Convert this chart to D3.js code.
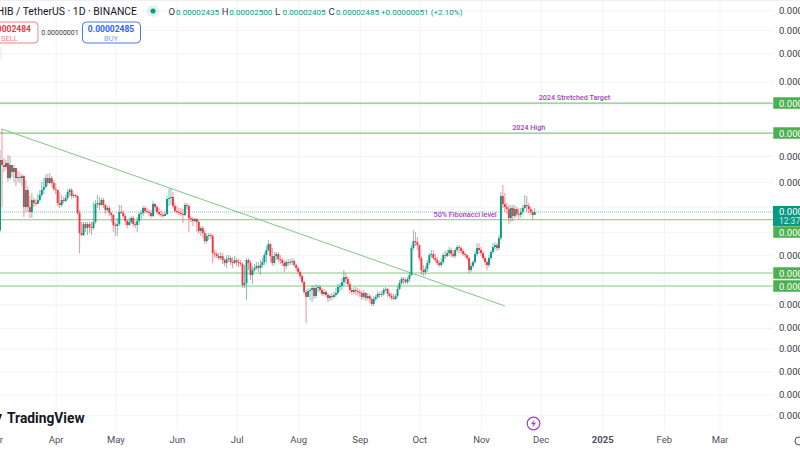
<!DOCTYPE html>
<html>
<head>
<meta charset="utf-8">
<script src="https://cdnjs.cloudflare.com/ajax/libs/d3/7.8.5/d3.min.js"></script>
<style>
html, body { margin: 0; padding: 0; background: #fff; overflow: hidden; }
svg { display: block; }
text { font-family: Roboto, "Liberation Sans", sans-serif; }
</style>
</head>
<body>
<svg id="chart" width="800" height="450"></svg>
<script>
// prices are in units of 0.00000001 USDT
const firstDay = "2024-03-04";
const firstOpen = 2166;

const closes = [
  3690,3552,3499,3607,3218,3552,3368,3472,3218,3243,
  3218,3267,2581,2938,2581,2485,2722,2661,2641,2722,
  2828,2938,3005,3218,3098,3218,3098,2960,2938,2661,
  2621,2722,2702,2764,2893,2938,2806,2828,2806,2466,
  2117,2085,2268,2200,2268,2217,2200,2303,2641,2661,
  2621,2722,2621,2523,2562,2466,2429,2251,2234,2268,
  2485,2466,2410,2320,2251,2303,2374,2268,2251,2320,
  2447,2466,2562,2504,2485,2466,2410,2641,2581,2485,
  2447,2429,2410,2447,2743,2764,2785,2601,2504,2485,2466,
  2447,2429,2621,2601,2374,2356,2320,2356,2303,2150,
  2200,2117,1992,2070,2085,2070,1819,1805,1778,1751,
  1778,1725,1686,1738,1751,1699,1686,1725,1699,1686,
  1673,1427,1448,1725,1686,1539,1599,1623,1648,1623,
  1660,1699,1791,1861,1947,1778,1686,1778,1805,1738,
  1725,1686,1648,1699,1686,1699,1712,1660,1623,1575,
  1527,1459,1353,1303,1363,1374,1395,1313,1395,1405,
  1374,1333,1353,1323,1293,1313,1303,1323,1343,1405,
  1416,1459,1516,1493,1437,1374,1353,1374,1363,1353,
  1343,1303,1343,1293,1313,1283,1235,1283,1303,1333,
  1323,1333,1374,1384,1333,1313,1293,1283,1313,1384,
  1448,1493,1482,1459,1493,1539,1889,1992,1977,1933,
  1751,1599,1575,1611,1686,1791,1805,1751,1725,1686,
  1660,1699,1791,1778,1819,1861,1805,1778,1861,1904,
  1889,1847,1805,1791,1751,1599,1648,1699,1805,1889,
  1861,1819,1751,1699,1660,1751,1833,1904,1933,1889,
  2038,2806,2641,2581,2542,2374,2562,2410,2542,2447,
  2429,2485,2562,2621,2601,2542,2485,2429,2485
];
const highs = [
  3980,4669,3746,3690,3833,3804,3552,3552,3472,3394,
  3368,3317,3292,3169,3028,2806,2871,2764,2743,2850,
  2938,3122,3218,3317,3317,3343,3267,3169,3098,2938,
  2893,2828,2785,2828,2960,2983,2983,2871,2850,2828,
  2523,2303,2303,2303,2303,2303,2303,2681,2722,2828,
  2785,2764,2764,2641,2601,2601,2485,2447,2303,2374,
  2621,2621,2523,2447,2356,2374,2410,2410,2303,2392,
  2485,2523,2601,2601,2562,2542,2523,2702,2661,2621,
  2562,2523,2485,2485,2806,2960,2983,2893,2661,2601,2562,
  2562,2542,2661,2661,2641,2410,2392,2374,2374,2338,
  2234,2234,2166,2117,2117,2117,2101,1861,1833,1819,
  1833,1819,1751,1791,1791,1778,1764,1778,1751,1738,
  1725,1699,1660,1751,1751,1725,1648,1673,1699,1699,
  1725,1751,1833,1918,2008,1962,1889,1833,1833,1833,
  1791,1751,1725,1725,1738,1738,1751,1738,1673,1635,
  1599,1551,1471,1374,1395,1395,1427,1416,1437,1427,
  1427,1395,1384,1374,1343,1333,1343,1353,1395,1437,
  1448,1504,1599,1563,1527,1459,1395,1405,1405,1395,
  1384,1363,1374,1353,1343,1333,1303,1313,1323,1363,
  1353,1363,1395,1405,1395,1353,1343,1333,1333,1416,
  1482,1516,1516,1504,1516,1575,1933,2166,2134,2054,
  1933,1778,1660,1648,1725,1819,1861,1861,1805,1764,
  1712,1751,1819,1847,1861,1904,1889,1861,1889,1933,
  1933,1918,1875,1833,1805,1764,1686,1725,1847,1962,
  1962,1904,1847,1778,1725,1791,1861,1962,1977,1962,
  2085,2893,3051,2871,2661,2621,2621,2621,2621,2581,
  2562,2562,2621,2828,2806,2661,2581,2523,2562
];
const lows = [
  2134,2581,3368,3420,3122,3169,3243,3122,3028,3122,
  3098,3028,2392,2485,2485,2374,2374,2581,2601,2661,
  2681,2785,2850,2983,3028,3075,3005,2915,2850,2601,
  2562,2581,2661,2681,2722,2806,2743,2764,2764,2429,
  1819,2070,2070,2134,2085,2117,2085,2166,2268,2562,
  2523,2601,2562,2447,2485,2410,2303,2134,2070,2070,
  2234,2447,2374,2251,2200,2234,2268,2217,2200,2134,
  2251,2356,2410,2466,2447,2410,2374,2392,2504,2447,
  2410,2392,2374,2410,2429,2601,2621,2562,2466,2447,2429,
  2410,2285,2410,2523,2134,2303,2234,2303,2134,2101,
  2070,2038,1947,1962,2008,2023,1686,1751,1751,1725,
  1725,1673,1648,1623,1699,1660,1623,1673,1648,1635,
  1648,1395,1395,1273,1599,1482,1437,1575,1599,1575,
  1539,1623,1660,1686,1833,1699,1648,1660,1725,1699,
  1673,1648,1575,1611,1648,1660,1660,1635,1587,1551,
  1493,1437,1333,1068,1313,1273,1254,1283,1293,1353,
  1343,1313,1313,1303,1254,1264,1273,1293,1303,1323,
  1363,1374,1416,1437,1405,1343,1323,1333,1323,1313,
  1303,1273,1283,1264,1273,1245,1217,1217,1264,1283,
  1293,1303,1313,1353,1303,1293,1273,1273,1273,1293,
  1374,1427,1437,1437,1437,1459,1527,1861,1918,1861,
  1712,1539,1527,1539,1575,1660,1751,1725,1699,1660,
  1635,1635,1673,1738,1764,1778,1764,1751,1751,1833,
  1819,1805,1778,1751,1725,1563,1575,1623,1673,1778,
  1805,1778,1725,1660,1599,1635,1725,1805,1861,1847,
  1861,2008,2562,2485,2447,2268,2303,2320,2374,2392,
  2356,2374,2447,2523,2485,2466,2429,2338,2429
];

const priceTicks = [11500,9900,8300,6700,3800,3120,1790,1230,1030,880,740,620,530];
const hiddenTicks = [5600,4600,2580,2130,1480];
const levels = [5687,4527,2343,1563,1416];
const levelNotes = [
  {price: 5687, text: "2024 Stretched Target", day: "2024-12-18"},
  {price: 4527, text: "2024 High", day: "2024-11-25"},
  {price: 2343, text: "50% Fibonacci level", day: "2024-10-24"}
];
const trendDays = ["2024-03-05", "2024-11-13"];
const trendPrices = [4669, 1217];
const lastPrice = 2485;

const monthTicks = ["2024-03-01","2024-04-01","2024-05-01","2024-06-01","2024-07-01","2024-08-01","2024-09-01","2024-10-01","2024-11-01","2024-12-01","2025-01-01","2025-02-01","2025-03-01"];
const monthLabels = ["Mar","Apr","May","Jun","Jul","Aug","Sep","Oct","Nov","Dec","2025","Feb","Mar"];

const ohlc = [
  {name: "O", value: "0.00002435"},
  {name: "H", value: "0.00002500"},
  {name: "L", value: "0.00002405"},
  {name: "C", value: "0.00002485"}
];

const up = "#089981", down = "#f23645", levelGreen = "#81c784", purple = "#a63cc0";
const width = 800, height = 450, paneW = 773, paneH = 431;
const parse = d3.utcParse("%Y-%m-%d");
const fmt = v => (v / 1e8).toFixed(8);

const candles = closes.map((c, i) => ({
  day: d3.utcDay.offset(parse(firstDay), i),
  open: i == 0 ? firstOpen : closes[i - 1],
  close: c,
  high: highs[i],
  low: lows[i]
}));

const x = d3.scaleUtc()
  .domain([parse("2024-04-01"), parse("2025-03-01")])
  .range([55.7, 719.5]);
const y = d3.scaleLog().domain([474, 12450]).range([430, 0]);

const svg = d3.select("#chart");

// right axis, grid lines come from the ticks
const yAxis = svg.append("g")
  .attr("transform", "translate(" + paneW + ",0)")
  .call(d3.axisRight(y).tickValues(priceTicks).tickFormat(fmt).tickSize(-paneW).tickPadding(6));
yAxis.select(".domain").remove();
yAxis.selectAll("line").attr("stroke", "#f2f3f5");
yAxis.selectAll("text").attr("fill", "#333a45").attr("font-size", 9.5);

// these sit under the green tags, only the grid line shows
svg.append("g").selectAll("line")
  .data(hiddenTicks)
  .enter().append("line")
  .attr("x1", 0).attr("x2", paneW)
  .attr("y1", d => y(d)).attr("y2", d => y(d))
  .attr("stroke", "#f2f3f5");

const xAxis = svg.append("g")
  .attr("transform", "translate(0," + paneH + ")")
  .call(d3.axisBottom(x)
    .tickValues(monthTicks.map(parse))
    .tickFormat((d, i) => monthLabels[i])
    .tickSize(-paneH).tickPadding(5));
xAxis.select(".domain").remove();
xAxis.selectAll("line").attr("stroke", "#f2f3f5");
xAxis.selectAll("text")
  .attr("fill", "#4a4f5c").attr("font-size", 9.5)
  .attr("font-weight", (d, i) => monthLabels[i] == "2025" ? "bold" : "normal");

svg.append("line").attr("x1", 0).attr("x2", width).attr("y1", 0.5).attr("y2", 0.5).attr("stroke", "#eef0f4");

// horizontal levels
svg.append("g").selectAll("line")
  .data(levels)
  .enter().append("line")
  .attr("x1", 0).attr("x2", paneW)
  .attr("y1", d => y(d)).attr("y2", d => y(d))
  .attr("stroke", levelGreen)
  .attr("stroke-width", d => d == 1563 ? 2.2 : 1.1)
  .attr("stroke-opacity", d => d == 1563 ? 0.5 : 1);

// trend line
svg.append("line")
  .attr("x1", x(parse(trendDays[0]))).attr("y1", y(trendPrices[0]))
  .attr("x2", x(parse(trendDays[1]))).attr("y2", y(trendPrices[1]))
  .attr("stroke", levelGreen).attr("stroke-width", 1);

// last price line
svg.append("line")
  .attr("x1", 0).attr("x2", paneW)
  .attr("y1", y(lastPrice)).attr("y2", y(lastPrice))
  .attr("stroke", up).attr("stroke-opacity", 0.55)
  .attr("stroke-dasharray", "1 1");

// candles
const candle = svg.append("g").selectAll("g")
  .data(candles)
  .enter().append("g")
  .attr("fill", d => d.close >= d.open ? up : down)
  .attr("stroke", d => d.close >= d.open ? up : down);
candle.append("line")
  .attr("x1", d => x(d.day)).attr("x2", d => x(d.day))
  .attr("y1", d => y(d.high)).attr("y2", d => y(d.low))
  .attr("stroke-width", 1).attr("stroke-opacity", 0.55);
candle.append("rect")
  .attr("x", d => x(d.day) - 0.95)
  .attr("width", 1.9)
  .attr("y", d => y(Math.max(d.open, d.close)))
  .attr("height", d => Math.max(1, Math.abs(y(d.open) - y(d.close))))
  .attr("stroke", "none");

// notes on the levels
svg.append("g").selectAll("text")
  .data(levelNotes)
  .enter().append("text")
  .attr("x", d => x(parse(d.day)))
  .attr("y", d => y(d.price) - 3)
  .attr("text-anchor", "middle")
  .attr("fill", purple)
  .attr("font-size", 7.2)
  .attr("font-weight", 500)
  .text(d => d.text);

// price labels on the axis
const labelY = {5687: 103, 4527: 133, 2343: 232, 1563: 273, 1416: 286};
const tags = svg.append("g").selectAll("g")
  .data(levels)
  .enter().append("g")
  .attr("transform", d => "translate(" + paneW + "," + labelY[d] + ")");
tags.append("rect")
  .attr("y", -6).attr("width", 30).attr("height", 12)
  .attr("fill", "#4caf50").attr("stroke", "#fff").attr("stroke-width", 0.5);
tags.append("text")
  .attr("x", 6).attr("y", 3.5)
  .attr("fill", "#fff").attr("font-size", 9.5)
  .text(d => fmt(d));

const lastTag = svg.append("g").attr("transform", "translate(" + paneW + ",206)");
lastTag.append("rect").attr("width", 30).attr("height", 20).attr("fill", up);
lastTag.append("text").attr("x", 6).attr("y", 9).attr("fill", "#fff").attr("font-size", 9.5).text(fmt(lastPrice));
lastTag.append("text").attr("x", 6).attr("y", 18).attr("fill", "#d5efe9").attr("font-size", 8.5).text("12:37:21");

// header
svg.append("text").attr("x", 137).attr("y", 15).attr("text-anchor", "end")
  .attr("fill", "#131722").attr("font-size", 10.4).text("SHIB / TetherUS · 1D · BINANCE");
svg.append("circle").attr("cx", 153).attr("cy", 11).attr("r", 6).attr("fill", up).attr("fill-opacity", 0.12);
svg.append("circle").attr("cx", 153).attr("cy", 11).attr("r", 2.5).attr("fill", up);

const ohlcGroup = svg.append("g").selectAll("g")
  .data(ohlc)
  .enter().append("g")
  .attr("transform", (d, i) => "translate(" + (168.5 + i * 53.3) + ",15)");
ohlcGroup.append("text").attr("font-size", 9.5).attr("fill", "#333a45").text(d => d.name);
ohlcGroup.append("text").attr("x", 7.5).attr("font-size", 8.1).attr("fill", up).text(d => d.value);
svg.append("text").attr("x", 381).attr("y", 15).attr("font-size", 8.1).attr("fill", up)
  .text("+0.00000051 (+2.10%)");

// sell and buy buttons
svg.append("rect").attr("x", -8).attr("y", 22).attr("width", 46).attr("height", 21).attr("rx", 4)
  .attr("fill", "#fff").attr("stroke", "#f7808a");
svg.append("text").attr("x", 31).attr("y", 32).attr("text-anchor", "end").attr("fill", down)
  .attr("font-size", 8.5).attr("font-weight", "bold").text("0.00002484");
svg.append("text").attr("x", 1).attr("y", 41).attr("fill", "#f7808a").attr("font-size", 7.5).text("SELL");
svg.append("text").attr("x", 60).attr("y", 35).attr("text-anchor", "middle").attr("fill", "#333a45")
  .attr("font-size", 7).text("0.00000001");
svg.append("rect").attr("x", 82.5).attr("y", 22).attr("width", 58).attr("height", 21).attr("rx", 4)
  .attr("fill", "#fff").attr("stroke", "#4a78f0");
svg.append("text").attr("x", 111).attr("y", 32).attr("text-anchor", "middle").attr("fill", "#2962ff")
  .attr("font-size", 8.5).attr("font-weight", "bold").text("0.00002485");
svg.append("text").attr("x", 111).attr("y", 41).attr("text-anchor", "middle").attr("fill", "#7f9df5")
  .attr("font-size", 7.5).text("BUY");
svg.append("rect").attr("x", -4).attr("y", 48).attr("width", 6).attr("height", 12).attr("rx", 2).attr("fill", "#f0f1f3");

// logo
svg.append("text").attr("x", 7).attr("y", 423).attr("fill", "#131722")
  .attr("font-size", 13.8).attr("font-weight", "bold").text("TradingView");
svg.append("path").attr("d", "M0 414H2L0 420Z").attr("fill", "#131722");

// bolt badge and the clock at the corner
svg.append("circle").attr("cx", 533.5).attr("cy", 423.5).attr("r", 6.3)
  .attr("fill", "#fff").attr("stroke", purple).attr("stroke-width", 1.2);
svg.append("path").attr("d", "M534.5 419.5L531 424.3H533.5L532.5 427.5L536 422.7H533.5Z").attr("fill", purple);
svg.append("circle").attr("cx", 799).attr("cy", 441).attr("r", 4).attr("fill", "none").attr("stroke", "#4a4f5c");
</script>
</body>
</html>
